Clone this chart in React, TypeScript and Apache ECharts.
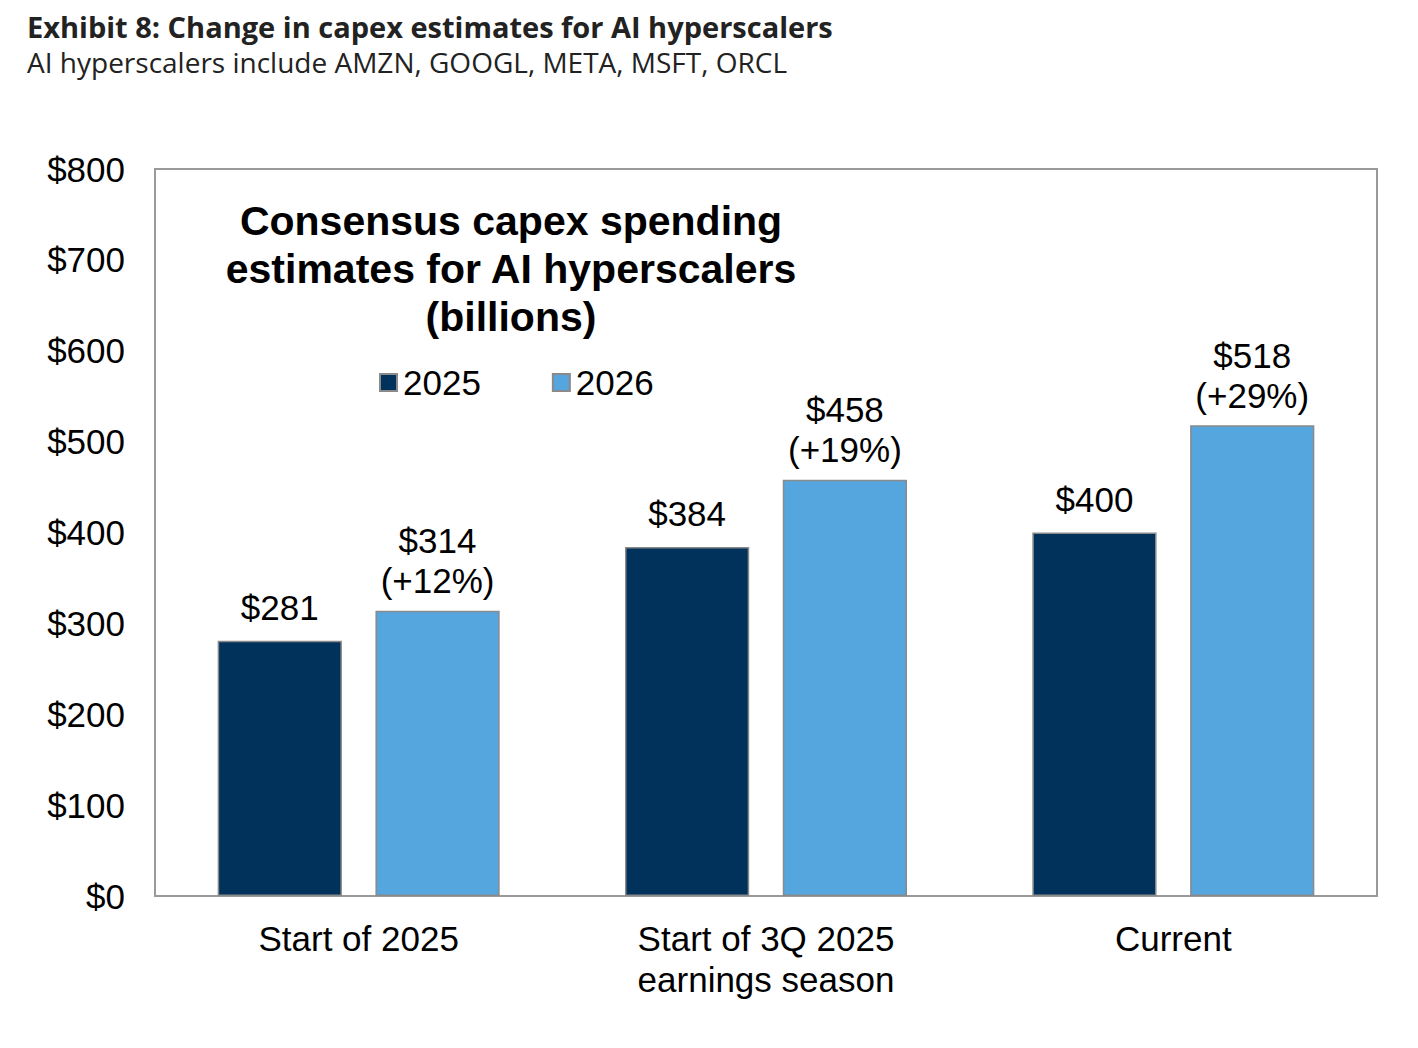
import React, { useEffect, useRef } from "react";
import * as echarts from "echarts";

const categories = ["Start of 2025", "Start of 3Q 2025\nearnings season", "Current"];
const values2025 = [281, 384, 400];
const values2026 = [314, 458, 518];
const growth2026 = ["+12%", "+19%", "+29%"];
const yTicks = [0, 100, 200, 300, 400, 500, 600, 700, 800];

const FONT = "Liberation Sans, Arial, sans-serif";

export default function App() {
  const ref = useRef<HTMLDivElement>(null);
  useEffect(() => {
    if (!ref.current) return;
    const chart = echarts.init(ref.current, null, { renderer: "svg" });
    chart.setOption({
      animation: false,
      backgroundColor: "#ffffff",
      title: [
        {
          text: "Exhibit 8: Change in capex estimates for AI hyperscalers",
          left: 22,
          top: 7,
          textStyle: { fontFamily: "Open Sans", fontWeight: "bold", fontSize: 29, color: "#222222" },
        },
        {
          text: "AI hyperscalers include AMZN, GOOGL, META, MSFT, ORCL",
          left: 22,
          top: 43,
          textStyle: { fontFamily: "Open Sans", fontWeight: "normal", fontSize: 28, color: "#222222" },
        },
        {
          text: "Consensus capex spending\nestimates for AI hyperscalers\n(billions)",
          left: 506,
          top: 192,
          textAlign: "center",
          textStyle: { fontFamily: FONT, fontWeight: "bold", fontSize: 41, lineHeight: 48, color: "#000000" },
        },
      ],
      legend: {
        left: 374,
        top: 360,
        itemWidth: 17,
        itemHeight: 17,
        itemGap: 71,
        icon: "rect",
        textStyle: { fontFamily: FONT, fontSize: 35, color: "#000000", padding: [0, 0, 0, 1] },
        data: ["2025", "2026"],
      },
      grid: {
        left: 155,
        right: 41,
        top: 169,
        bottom: 152,
        show: true,
        borderColor: "#9a9a9a",
        borderWidth: 2,
      },
      xAxis: {
        type: "category",
        data: categories,
        axisLine: { lineStyle: { color: "#9a9a9a", width: 2 } },
        axisTick: { show: false },
        axisLabel: { fontFamily: FONT, fontSize: 35, color: "#000000", margin: 22, lineHeight: 41 },
      },
      yAxis: {
        type: "value",
        min: yTicks[0],
        max: yTicks[yTicks.length - 1],
        interval: 100,
        splitLine: { show: false },
        axisLine: { show: false },
        axisTick: { show: false },
        axisLabel: {
          fontFamily: FONT,
          fontSize: 35,
          color: "#000000",
          margin: 30,
          formatter: (v: number) => "$" + v,
        },
      },
      series: [
        {
          name: "2025",
          type: "bar",
          data: values2025,
          barWidth: "30.5%",
          barGap: "27%",
          itemStyle: { color: "#00325b", borderColor: "#8a8a8a", borderWidth: 1.5 },
          label: {
            show: true,
            position: "top",
            distance: 16,
            fontFamily: FONT,
            fontSize: 35,
            color: "#000000",
            formatter: (p: any) => "$" + p.value,
          },
        },
        {
          name: "2026",
          type: "bar",
          data: values2026,
          barWidth: "30.5%",
          itemStyle: { color: "#55a5df", borderColor: "#8a8a8a", borderWidth: 1.5 },
          label: {
            show: true,
            position: "top",
            distance: 10,
            fontFamily: FONT,
            fontSize: 35,
            lineHeight: 40,
            color: "#000000",
            formatter: (p: any) => "$" + p.value + "\n(" + growth2026[p.dataIndex] + ")",
          },
        },
      ],
    });
    return () => chart.dispose();
  }, []);
  return <div ref={ref} style={{ position: "absolute", left: 0, top: 0, width: 1418, height: 1048 }} />;
}
